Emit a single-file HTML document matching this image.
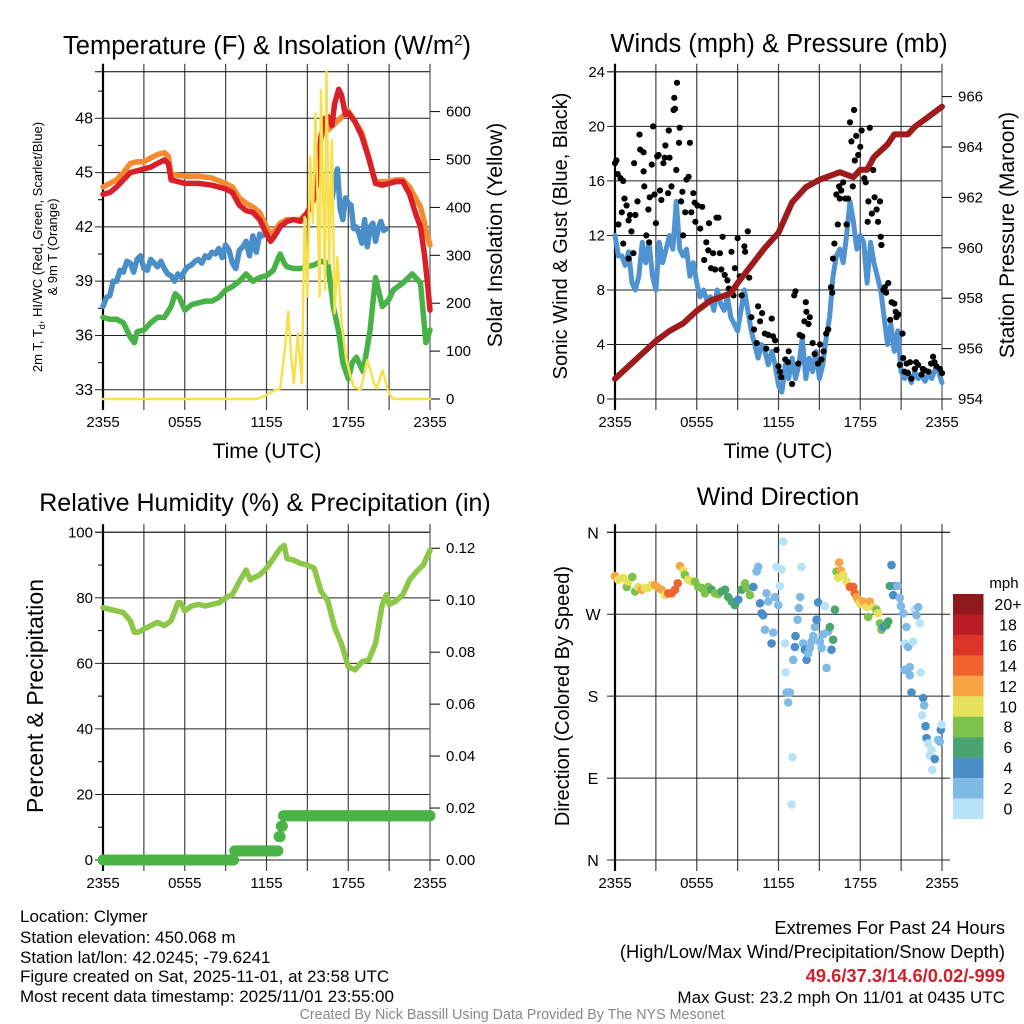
<!DOCTYPE html>
<html><head><meta charset="utf-8"><style>
html,body{margin:0;padding:0;background:#fff;}
svg{display:block;font-family:"Liberation Sans",sans-serif;}
</style></head><body>
<svg id="chart" width="1024" height="1024" viewBox="0 0 1024 1024" xmlns="http://www.w3.org/2000/svg">
<g id="gP1"></g>
<g id="gP2"></g>
<g id="gP3"></g>
<g id="gP4"></g>

<text x="267" y="54" font-size="25.5" text-anchor="middle">Temperature (F) &amp; Insolation (W/m<tspan dy="-9" font-size="15">2</tspan><tspan dy="9">)</tspan></text>
<text x="779" y="52" font-size="25.5" text-anchor="middle">Winds (mph) &amp; Pressure (mb)</text>
<text x="265" y="511" font-size="25" text-anchor="middle">Relative Humidity (%) &amp; Precipitation (in)</text>
<text x="778" y="505" font-size="25" text-anchor="middle">Wind Direction</text>

<text x="267" y="458" font-size="21" text-anchor="middle">Time (UTC)</text>
<text x="778" y="458" font-size="21" text-anchor="middle">Time (UTC)</text>

<g transform="translate(42,247) rotate(-90)">
<text x="0" y="0" font-size="13" text-anchor="middle">2m T, T<tspan font-size="9" dy="3">d</tspan><tspan dy="-3">, HI/WC (Red, Green, Scarlet/Blue)</tspan></text>
<text x="0" y="15" font-size="13" text-anchor="middle">&amp; 9m T (Orange)</text>
</g>
<text transform="translate(502,235) rotate(-90)" font-size="21" text-anchor="middle">Solar Insolation (Yellow)</text>
<text transform="translate(567,236) rotate(-90)" font-size="20" text-anchor="middle">Sonic Wind &amp; Gust (Blue, Black)</text>
<text transform="translate(1014,235) rotate(-90)" font-size="21" text-anchor="middle">Station Pressure (Maroon)</text>
<text transform="translate(43,696) rotate(-90)" font-size="23" text-anchor="middle">Percent &amp; Precipitation</text>
<text transform="translate(569,696) rotate(-90)" font-size="20" text-anchor="middle">Direction (Colored By Speed)</text>

<g id="gCB"></g>
<text x="1004" y="588" font-size="15" text-anchor="middle">mph</text>

<g font-size="17">
<text x="20" y="922">Location: Clymer</text>
<text x="20" y="943">Station elevation: 450.068 m</text>
<text x="20" y="963">Station lat/lon: 42.0245; -79.6241</text>
<text x="20" y="982">Figure created on Sat, 2025-11-01, at 23:58 UTC</text>
<text x="20" y="1002">Most recent data timestamp: 2025/11/01 23:55:00</text>
</g>
<g font-size="18.3" text-anchor="end">
<text x="1005" y="934">Extremes For Past 24 Hours</text>
<text x="1005" y="958">(High/Low/Max Wind/Precipitation/Snow Depth)</text>
<text x="1005" y="982" fill="#d0202a" font-weight="bold">49.6/37.3/14.6/0.02/-999</text>
<text x="1005" y="1003" font-size="17">Max Gust: 23.2 mph On 11/01 at 0435 UTC</text>
</g>
<text x="512" y="1019" font-size="14.3" fill="#888" text-anchor="middle">Created By Nick Bassill Using Data Provided By The NYS Mesonet</text>
</svg>
<script>
// ---------- data ----------
const timeTickLabels = ["2355","0555","1155","1755","2355"];
const tempTicks = [33,36,39,42,45,48];
const solarTicks = [0,100,200,300,400,500,600];
const windTicks = [0,4,8,12,16,20,24];
const pressTicks = [954,956,958,960,962,964,966];
const rhTicks = [0,20,40,60,80,100];
const precipTicks = [0,0.02,0.04,0.06,0.08,0.10,0.12];
const dirTicks = [0,90,180,270,360];
const dirTickLabels = ["N","E","S","W","N"];

const redHours = [0,0.5,1,1.5,2,2.5,3,3.5,4,4.5,4.8,5,6,7,8,9,9.5,10,10.5,11,11.5,12,12.3,12.6,13,13.5,14,14.5,15,15.5,15.8,16,16.3,16.5,16.8,17,17.3,17.5,17.8,18,18.5,19,19.5,20,20.5,21,21.5,22,22.5,23,23.3,23.6,23.8,24];
const redT = [43.8,43.9,44.2,44.6,45.0,45.1,45.2,45.3,45.5,45.7,45.5,44.6,44.4,44.4,44.3,44.1,43.9,43.2,42.9,42.8,42.4,41.6,41.2,41.5,42.0,42.3,42.4,42.3,42.8,43.6,45.0,47.0,48.0,48.1,47.6,48.8,49.6,49.3,48.2,48.3,47.8,47.0,45.8,44.4,44.3,44.4,44.5,44.5,43.8,42.6,42.0,40.4,39.0,37.4];
const orangeHours = [0,0.5,1,1.5,2,2.5,3,3.5,4,4.5,4.8,5,6,7,8,9,9.5,10,10.5,11,11.5,12,12.3,12.6,13,13.5,14,14.5,15,15.5,15.8,16,18,19,20,20.5,21,21.5,22,22.5,23,23.3,23.6,23.8,24];
const orangeT = [44.2,44.4,44.6,45.0,45.5,45.6,45.6,45.8,46.0,46.1,45.9,44.9,44.8,44.8,44.7,44.4,44.2,43.6,43.3,43.1,42.8,42.0,41.6,41.8,42.2,42.4,42.4,42.4,42.8,43.6,45.0,47.0,48.4,47.2,44.5,44.5,44.5,44.6,44.6,44.2,43.5,43.1,42.2,41.5,41.0];
const blueHours = [0,0.25,0.5,0.75,1,1.25,1.5,1.75,2,2.25,2.5,2.75,3,3.25,3.5,3.75,4,4.25,4.5,4.75,5,5.25,5.5,5.75,6,6.25,6.5,6.75,7,7.25,7.5,7.75,8,8.25,8.5,8.75,9,9.25,9.5,9.75,10,10.25,10.5,10.75,11,11.25,11.5,11.7];
const blueT = [37.6,38.1,38.2,39.0,39.0,39.6,39.5,40.1,40.0,39.5,40.2,40.4,39.7,39.6,40.2,40.0,39.8,40.1,39.7,39.4,39.3,39.0,39.4,39.2,39.6,39.8,39.9,40.1,40.2,40.0,40.4,40.3,40.6,40.5,40.8,40.3,41.0,40.7,40.0,39.7,40.7,40.9,41.2,40.4,41.5,40.6,41.6,41.5];
const blue2Hours = [16.8,17.0,17.2,17.4,17.6,17.8,18.0,18.2,18.4,18.6,18.8,19.0,19.2,19.4,19.6,19.8,20.0,20.2,20.4,20.6,20.8];
const blue2T = [43.5,44.5,45.2,43.0,42.4,43.6,43.3,43.2,41.9,42.0,41.6,41.1,42.4,40.9,42.0,42.2,41.2,41.9,42.3,41.8,41.9];
const greenHours = [0,0.5,1,1.5,2,2.3,2.5,3,3.5,4,4.5,5,5.3,5.6,6,6.5,7,7.5,8,8.5,9,9.5,10,10.5,11,11.5,12,12.5,13,13.3,13.5,14,14.5,15,15.5,16,16.5,16.9,17.3,17.6,18,18.3,18.6,19.1,19.6,20,20.5,21,21.3,22,22.7,23.3,23.7,24];
const greenT = [37.0,36.9,36.9,36.7,35.9,35.6,36.2,36.3,36.7,37.0,37.0,37.6,38.3,38.1,37.4,37.7,37.8,37.9,37.9,38.1,38.5,38.7,39.0,39.4,39.0,39.2,39.3,39.6,40.5,40.0,39.8,39.7,39.7,39.8,39.9,40.1,40.0,37.6,36.2,34.5,33.6,34.5,34.8,34.0,36.3,39.2,37.6,38.0,38.5,38.9,39.4,38.9,35.6,36.3];
const solarHours = [0,11.3,11.8,12.2,12.6,13.0,13.3,13.6,13.8,14.0,14.3,14.6,14.8,15.0,15.2,15.4,15.6,15.9,16.0,16.3,16.4,16.6,16.8,17.0,17.2,17.5,17.8,18.1,18.4,18.9,19.4,19.9,20.1,20.5,21.0,21.3,21.8,22.2,24];
const solarW = [0,0,5,12,18,22,90,182,95,33,137,33,380,214,506,367,596,214,645,228,683,283,540,179,297,165,95,54,26,19,81,33,22,60,12,0,0,0,0];

const pressHours = [0,1,2,3,4,5,6,7,8,8.5,9,10,11,12,13,13.5,14,15,16,16.5,17,17.5,18,18.5,19,20,20.5,21,21.5,22,23,24];
const pressMb = [954.8,955.3,955.8,956.3,956.7,957.0,957.5,957.9,958.1,958.2,958.6,959.3,960.0,960.6,961.8,962.1,962.4,962.7,962.9,963.0,962.9,962.8,963.1,963.1,963.6,964.1,964.5,964.5,964.5,964.8,965.2,965.6];
const windStepHours = 0.25;
const windMph = [12,10.5,10.5,9.8,10.8,8.5,8,9,11.5,10,11.5,9,8,11.5,10,11,12,11,14.5,11,10.5,11,9,10,8.5,7.5,8,7.2,7.5,6.5,8,7,6.5,7.5,6,5.5,5,6.5,8,6.5,5,4,3,4,3.5,2.5,3.5,2.5,1,0.5,2.5,1.5,3,1.5,2.5,4.5,1.5,3,2,3.5,1.5,2.5,4.5,6,9,10.5,11,10,12,14.5,13,11,12,11.5,8.5,11.5,10,9,8,6,4,5.5,3.5,5,2,1.5,2,1.2,2,1.5,1.8,1.3,1.8,1.5,2.2,2,1.2];
const gustHours = [0,0.2,0.1,0.25,0.4,0.6,0.5,0.6,0.7,0.85,1,1.1,1.2,1.35,1,1.5,1.4,1.65,1.85,1.8,2.1,2.1,2.15,2.3,2.45,2.5,2.55,2.7,2.8,2.9,3,3.1,3.2,3.3,3.4,3.55,3.65,3.7,3.9,3.95,4,4.15,4.3,4.4,4.35,4.55,4.5,4.7,4.75,4.85,4.95,5,5.15,5.25,5.4,5.5,5.6,5.75,5.85,5.9,6.05,6.25,6.4,6.55,6.7,6.85,6.9,7.05,7.2,7.35,7.45,7.6,7.7,7.8,7.9,8.05,8.25,8.35,8.55,8.7,8.8,9,9.15,9.3,9.5,9.55,9.75,9.85,10,10.2,10.4,10.5,10.65,10.8,11,11.1,11.25,11.5,11.6,11.75,11.85,12,12.1,12.2,12.5,12.7,12.75,13,13.15,13.25,13.45,13.55,13.75,13.9,14,14.05,14.2,14.3,14.5,14.65,14.9,15.05,15.15,15.3,15.5,15.65,15.85,15.95,16,16.1,16.25,16.35,16.45,16.5,16.6,16.75,16.9,17,17.1,17.25,17.35,17.45,17.55,17.6,17.7,17.85,18,18.1,18.3,18.4,18.55,18.6,18.7,18.85,18.95,19.05,19.2,19.3,19.45,19.5,19.55,19.7,19.8,19.9,20.05,20.2,20.3,20.5,20.6,20.65,20.8,20.9,21.1,21.15,21.25,21.4,21.5,21.65,21.75,22,22.1,22.25,22.5,22.6,22.75,23,23.2,23.35,23.45,23.6,23.85,24];
const gustMph = [17.3,16.5,17.5,12.8,16.2,16.0,13.7,11.4,14.7,14.2,13.1,13.5,12.3,10.7,10.3,13.5,17.3,14.5,18.3,19.4,16.7,18.1,15.6,12.0,13.9,11.5,14.8,17.2,20.0,15.0,12.9,17.8,17.9,15.3,14.6,17.3,17.7,18.6,15.1,19.7,17.7,15.6,21.2,21.3,22.1,23.2,16.8,18.8,19.9,14.5,15.2,12.0,13.7,16.1,16.3,18.8,13.7,15.1,14.4,13.0,14.2,12.5,14.1,10.2,11.5,10.9,12.9,9.6,10.7,9.5,13.3,13.3,10.7,9.5,11.9,9.1,8.7,8.1,10.8,7.6,9.6,11.8,9.0,7.6,11.2,10.8,12.3,8.9,6.0,5.1,4.1,6.8,5.7,6.3,4.8,3.7,4.7,5.9,4.6,4.3,3.6,2.4,2.0,1.6,2.9,2.7,3.5,1.1,7.6,7.9,2.6,4.7,4.6,5.7,7.1,6.4,5.5,6.0,4.1,3.3,2.6,4.0,2.9,3.5,4.8,5.1,8.2,7.8,10.3,11.4,15.0,12.8,15.6,14.7,15.3,15.9,14.7,12.8,14.7,20.3,18.9,15.6,21.2,17.5,19.3,17.9,18.5,19.7,16.2,15.9,13.0,14.5,19.9,13.6,16.8,14.8,13.9,13.0,14.5,11.9,11.3,8.0,8.2,7.8,8.5,5.8,7.1,7.0,6.4,6.0,6.2,2.5,4.8,3.0,2.0,2.6,1.9,2.7,1.5,2.2,2.7,2.5,1.8,2.2,2.1,2.0,2.6,3.1,2.7,2.4,2.2,1.9];

const rhHours = [0,0.5,1,1.5,2,2.3,2.6,3,3.5,4,4.5,5,5.5,5.7,6,6.5,7,7.5,8,8.5,9,9.5,10,10.5,10.8,11,11.5,12,12.5,13,13.3,13.5,14,14.5,15,15.5,16,16.5,17,17.5,18,18.5,19,19.5,20,20.5,20.8,21,21.5,22,22.5,23,23.5,24];
const rhPct = [77,76.5,76,75.5,73,69.5,69.5,70.5,71.5,72.5,71.5,73,78.5,78.5,76,77.5,78,77.5,78,78.5,80,81,85,88.5,85.5,86,87,89,92,95,96,92,91.5,90.5,90,89,82,79,71,66,59,58,60.5,61,66,78,81,78,79,81,85.5,88,90,94.5];
const precipStepHours = [0,9.6,12.9,13.05,13.2];
const precipIn = [0,0.0035,0.009,0.013,0.017];

const wdHours = [0,0.24,0.61,0.86,0.98,1.27,1.47,1.71,1.96,2.2,2.44,2.69,2.93,3.18,3.42,3.67,3.91,4.16,4.4,4.6,4.77,5.01,5.13,5.38,5.62,5.87,6.11,6.36,6.6,6.85,7.09,7.33,7.58,7.82,8.07,8.31,8.56,8.8,9.05,9.29,9.54,9.66,9.9,10.15,10.39,10.51,10.64,10.76,10.88,11.12,11.0,11.25,11.61,11.49,11.74,11.86,11.98,12.1,12.22,12.35,12.47,12.52,12.59,12.71,12.84,13.01,12.96,13.08,13.2,13.25,13.4,13.5,13.59,13.69,13.81,13.94,14.06,14.18,14.3,14.43,14.55,14.67,14.79,14.91,15.04,15.16,15.28,15.4,15.53,15.65,15.77,15.89,16.01,16.14,16.26,16.38,16.45,16.58,16.75,16.99,17.24,17.48,17.6,17.73,17.85,17.97,18.22,18.46,18.58,18.7,18.95,19.19,19.32,19.44,19.56,19.68,19.93,20.05,20.17,20.29,20.42,20.54,20.73,20.9,20.98,21.15,21.27,21.39,21.52,21.27,21.64,21.64,21.76,21.88,22.0,22.13,22.25,22.37,22.44,22.62,22.69,22.54,22.79,22.86,22.98,23.1,23.23,23.1,23.28,23.47,23.72,23.84,23.91,23.96];
const wdDir = [312,308,310,300,306,311,295,300,297,299,299,302,302,299,297,291,293,293,297,304,323,318,313,308,306,306,300,299,293,300,297,293,292,295,297,289,284,280,286,297,304,299,291,300,317,322,282,271,269,293,253,284,250,238,289,322,280,301,319,350,238,206,184,173,184,113,61,220,234,246,264,277,289,322,238,231,220,227,233,240,246,256,264,283,240,233,248,279,211,251,256,231,242,275,317,310,327,318,313,306,300,300,293,289,286,282,284,278,267,284,278,275,271,260,253,256,258,262,301,324,291,301,301,288,279,271,238,256,234,209,212,203,184,240,275,269,278,260,206,178,170,159,147,134,128,115,121,115,99,111,132,130,143,149,122];
const wdSpeed = [13,11,11,9,11,9,9,11,13,11,11,11,13,13,13,11,15,15,15,15,13,11,9,11,11,9,9,9,9,9,7,9,9,7,7,7,7,7,5,7,9,9,9,5,3,3,5,5,5,3,3,3,3,5,3,1,3,1,1,1,1,1,3,3,3,1,1,3,5,5,3,3,3,1,3,5,5,3,3,3,3,3,5,5,3,3,3,1,3,3,7,5,7,7,9,11,13,13,11,11,15,15,15,13,13,11,13,11,9,13,11,9,11,9,9,5,7,7,7,5,5,5,3,3,3,3,1,3,3,3,3,3,5,1,1,3,3,1,1,5,3,1,5,5,1,1,1,1,1,5,3,3,5,1,3];

const cbLabels = ["20+","18","16","14","12","10","8","6","4","2","0"];
const cbColors = ["#8e181b","#bb1c25","#dc3328","#f0622e","#f7a544","#e7e05b","#7cc24b","#49a56d","#4a8ec7","#7fbae6","#b8e2f8"];

// ---------- helpers ----------
const NS = "http://www.w3.org/2000/svg";
function mk(tag, parent, attrs){const e=document.createElementNS(NS,tag);for(const k in attrs)e.setAttribute(k,attrs[k]);parent.appendChild(e);return e;}
function txt(parent,x,y,s,anchor,size){const t=mk('text',parent,{x:x,y:y,'text-anchor':anchor,'font-size':size||15});t.textContent=s;return t;}

function xL(h){return 103+h*327/24;}
function xR(h){return 615+h*327/24;}
function yTemp(t){return 399-(t-32.49)*18.1;}
function ySolar(w){return 399-w*0.479;}
function yWind(m){return 399-m*13.63;}
function yPress(p){return 399-(p-954)*25.2;}
function yRH(r){return 860-r*3.277;}
function yPrecip(v){return 860-v*2598;}
function yDir(d){return 860-d*0.9102;}

function frame(g, X, top, bottom, hLines, right){
  const L=X(0), R=X(24);
  for(let i=0;i<=8;i++){
    const x=X(i*3);
    const l=mk('line',g,{x1:x,y1:top-8,x2:x,y2:bottom+11,stroke:(i==0?'#000':'#444'),'stroke-width':(i==0?2.2:1.2)});
    
    
  }
  mk('line',g,{x1:L-8,y1:top,x2:R+(right||0),y2:top,stroke:'#000','stroke-width':1});
  hLines.forEach(y=>{
    const l=mk('line',g,{x1:L-8,y1:y,x2:R+(right||0),y2:y,stroke:'#222','stroke-width':1});
    
    
  });
  timeTickLabels.forEach((s,i)=>{
    const t=txt(g,X(i*6),bottom+28,s,'middle',15);
    
    
  });
}
function linePath(g,hours,vals,X,Y,color,w,name){
  let d='';
  hours.forEach((h,i)=>{d+=(i?'L':'M')+X(h).toFixed(1)+','+Y(vals[i]).toFixed(1);});
  const p=mk('path',g,{d:d,fill:'none',stroke:color,'stroke-width':w,'stroke-linejoin':'round','stroke-linecap':'round'});
  
  
  return p;
}
function rightTicks(g,X,ticks,Y,fmt,bottom,top){
  const R=X(24);
  mk('line',g,{x1:R,y1:top,x2:R,y2:bottom,stroke:'#888','stroke-width':1.5});
  ticks.forEach(v=>{
    const y=Y(v);
    mk('line',g,{x1:R,y1:y,x2:R+10,y2:y,stroke:'#000','stroke-width':1});
    const t=txt(g,R+16,y+5,fmt(v),'start',15);
    
    
  });
}

// ---------- panel 1 ----------
const g1=document.getElementById('gP1');
frame(g1,xL,71.7,399,tempTicks.map(yTemp),0);
tempTicks.forEach(v=>{const t=txt(g1,93,yTemp(v)+5,String(v),'end',16);});
for(let v=34.5;v<50;v+=3){mk('line',g1,{x1:98,y1:yTemp(v),x2:103,y2:yTemp(v),stroke:'#000','stroke-width':1});}
rightTicks(g1,xL,solarTicks,ySolar,v=>String(v),399,71.7);
linePath(g1,greenHours,greenT,xL,yTemp,'#47b347',5.5,'dewpoint-line');
linePath(g1,blueHours,blueT,xL,yTemp,'#4a8ec9',5.5,'heat-index-line');
linePath(g1,blue2Hours,blue2T,xL,yTemp,'#4a8ec9',5.5,'heat-index-line-late');
linePath(g1,orangeHours,orangeT,xL,yTemp,'#f68a2e',5.5,'temp-9m-line');
linePath(g1,redHours,redT,xL,yTemp,'#d7202a',5.5,'temp-2m-line');
linePath(g1,solarHours,solarW,xL,ySolar,'#f6e04e',2.5,'solar-insolation-line');

// ---------- panel 2 ----------
const g2=document.getElementById('gP2');
frame(g2,xR,71.7,399,windTicks.map(yWind),0);
windTicks.forEach(v=>{const t=txt(g2,605,yWind(v)+5,String(v),'end',15);});
rightTicks(g2,xR,pressTicks,yPress,v=>String(v),399,71.7);
const windHours=windMph.map((v,i)=>i*windStepHours);
linePath(g2,windHours,windMph,xR,yWind,'#4f93d2',5,'sonic-wind-line');
gustHours.forEach((h,i)=>{
  const c=mk('circle',g2,{cx:xR(h).toFixed(1),cy:yWind(gustMph[i]).toFixed(1),r:3.1,fill:'#000'});
  
  
});
linePath(g2,pressHours,pressMb,xR,yPress,'#9e1b1b',6,'pressure-line');

// ---------- panel 3 ----------
const g3=document.getElementById('gP3');
frame(g3,xL,532.3,860,rhTicks.map(yRH),0);
rhTicks.forEach(v=>{const t=txt(g3,93,yRH(v)+5,String(v),'end',15);});
for(let v=10;v<100;v+=20){mk('line',g3,{x1:98,y1:yRH(v),x2:103,y2:yRH(v),stroke:'#000','stroke-width':1});}
rightTicks(g3,xL,precipTicks,yPrecip,v=>v.toFixed(2),860,532.3);
linePath(g3,rhHours,rhPct,xL,yRH,'#8cc748',5.5,'humidity-line');
for(let h=0;h<=24.001;h+=1/12){
  let v=precipIn[0];
  precipStepHours.forEach((s,i)=>{if(h>=s)v=precipIn[i];});
  const c=mk('circle',g3,{cx:xL(h).toFixed(1),cy:yPrecip(v).toFixed(1),r:5.5,fill:'#4bb446'});
  
  
}

// ---------- panel 4 ----------
const g4=document.getElementById('gP4');
frame(g4,xR,532.3,860,dirTicks.map(yDir),8);
dirTicks.forEach((v,i)=>{const t=txt(g4,593,yDir(v)+6,dirTickLabels[i],'middle',16);});
function speedColor(s){let idx=Math.floor(s/2);if(idx>10)idx=10;return cbColors[10-idx];}
wdHours.forEach((h,i)=>{
  const c=mk('circle',g4,{cx:xR(h).toFixed(1),cy:yDir(wdDir[i]).toFixed(1),r:4.3,fill:speedColor(wdSpeed[i])});
  
  
});
const gcb=document.getElementById('gCB');
cbColors.forEach((col,i)=>{
  const r=mk('rect',gcb,{x:953,y:594+i*20.45,width:30.5,height:20.6,fill:col});
  
  
  const t=txt(gcb,1008,594+i*20.45+16,cbLabels[i],'middle',16);
  
  
});
</script>
</body></html>
